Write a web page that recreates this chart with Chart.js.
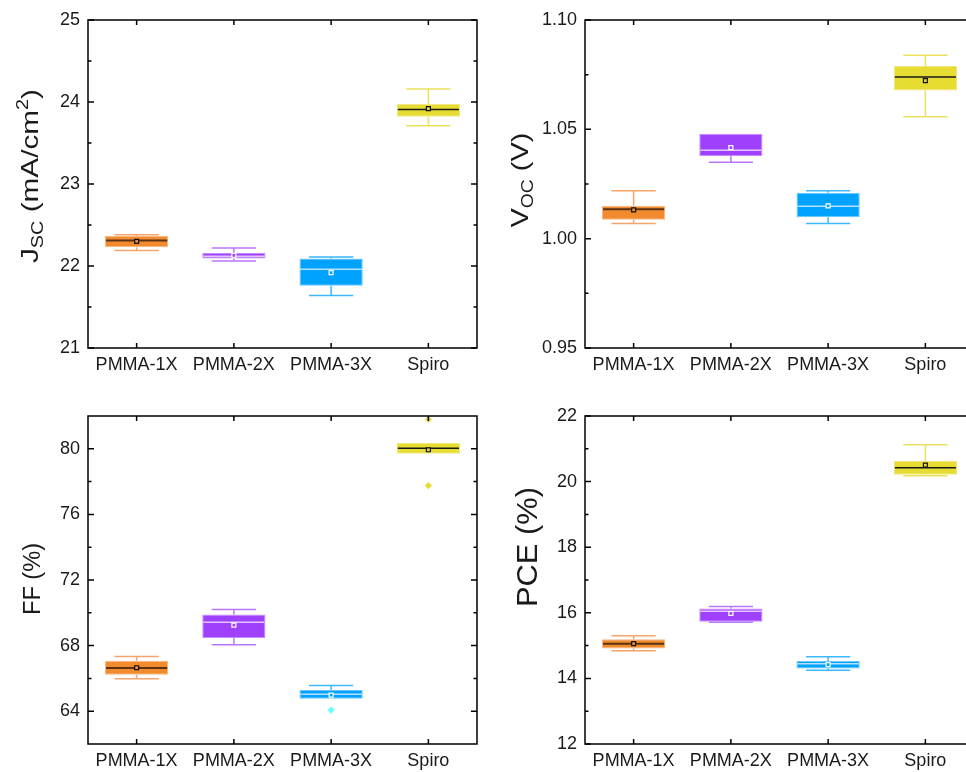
<!DOCTYPE html>
<html>
<head>
<meta charset="utf-8">
<script src="https://cdn.jsdelivr.net/npm/chart.js@4.4.1/dist/chart.umd.min.js"></script>
<style>
  html, body { margin: 0; padding: 0; background: #fff; overflow: hidden; }
  body { width: 966px; height: 772px; position: relative; }
  .panel { position: absolute; width: 483px; height: 386px; }
</style>
</head>
<body>
<div class="panel" style="left:0px;top:0px"><canvas id="jsc" width="483" height="386"></canvas></div>
<div class="panel" style="left:497px;top:0px"><canvas id="voc" width="483" height="386"></canvas></div>
<div class="panel" style="left:0px;top:396px"><canvas id="ff" width="483" height="386"></canvas></div>
<div class="panel" style="left:497px;top:396px"><canvas id="pce" width="483" height="386"></canvas></div>
<script>
const groups = ['PMMA-1X', 'PMMA-2X', 'PMMA-3X', 'Spiro'];

// box statistics per group: whisker ends, quartiles, median, mean
const jscMin  = [22.19, 22.06, 21.64, 23.71];
const jscQ1   = [22.23, 22.09, 21.76, 23.82];
const jscMed  = [22.31, 22.12, 21.96, 23.91];
const jscQ3   = [22.37, 22.16, 22.09, 23.98];
const jscMax  = [22.38, 22.22, 22.11, 24.16];
const jscMean = [22.30, 22.13, 21.92, 23.92];

const vocMin  = [1.0069, 1.0349, 1.0069, 1.0558];
const vocQ1   = [1.0087, 1.0378, 1.0098, 1.0678];
const vocMed  = [1.0134, 1.0404, 1.0148, 1.0739];
const vocQ3   = [1.0150, 1.0480, 1.0210, 1.0790];
const vocMax  = [1.0219, 1.0480, 1.0219, 1.0839];
const vocMean = [1.0132, 1.0416, 1.0150, 1.0723];

const ffMin  = [65.98, 68.05, 64.76, 79.70];
const ffQ1   = [66.22, 68.46, 64.76, 79.70];
const ffMed  = [66.63, 69.43, 65.04, 80.04];
const ffQ3   = [67.07, 69.90, 65.29, 80.35];
const ffMax  = [67.34, 70.20, 65.57, 80.35];
const ffMean = [66.65, 69.25, 64.98, 79.94];
const ffOutGroup = ['PMMA-3X', 'Spiro', 'Spiro'];
const ffOutValue = [64.07, 81.79, 77.76];

const pceMin  = [14.84, 15.71, 14.25, 20.18];
const pceQ1   = [14.91, 15.73, 14.30, 20.21];
const pceMed  = [15.06, 16.05, 14.45, 20.42];
const pceQ3   = [15.19, 16.13, 14.53, 20.63];
const pceMax  = [15.30, 16.19, 14.66, 21.12];
const pceMean = [15.06, 15.98, 14.42, 20.50];

// y axis ticks
const jscTicks = [21, 22, 23, 24, 25];
const jscMinor = [21.5, 22.5, 23.5, 24.5];
const vocTicks = [0.95, 1.00, 1.05, 1.10];
const vocMinor = [0.975, 1.025, 1.075];
const ffTicks = [64, 68, 72, 76, 80];
const ffMinor = [66, 70, 74, 78];
const pceTicks = [12, 14, 16, 18, 20, 22];
const pceMinor = [13, 15, 17, 19, 21];

// colours per group
const fillColors    = ['#F28A2E', '#A040FF', '#00A2FF', '#E6DC32'];
const edgeColors    = ['#F7B783', '#C68CFF', '#66C8FF', '#EFE77E'];
const whiskerColors = ['#F5A46A', '#B977FF', '#3DB8FF', '#EBE15F'];
const medianColors  = ['#5A3412', '#E3C6FF', '#B5E2FF', '#1A1A1A'];
const meanEdge      = ['#111111', '#FFFFFF', '#FFFFFF', '#111111'];
const outlierColors = { 'PMMA-3X': '#66FFFF', 'Spiro': '#E6DC32' };

const FONT = "'Liberation Sans', Arial, sans-serif";

const boxParts = {
  id: 'boxParts',
  beforeDatasetsDraw(chart, args, o) {
    const ctx = chart.ctx, xs = chart.scales.x, ys = chart.scales.y;
    const bar = chart.getDatasetMeta(0).data;
    ctx.save();
    ctx.lineWidth = 1.5;
    groups.forEach((g, i) => {
      const x = xs.getPixelForValue(i);
      const half = bar[i].width * 0.35;
      ctx.strokeStyle = whiskerColors[i];
      const yLo = ys.getPixelForValue(o.min[i]), yHi = ys.getPixelForValue(o.max[i]);
      const yQ1 = ys.getPixelForValue(o.q1[i]), yQ3 = ys.getPixelForValue(o.q3[i]);
      ctx.beginPath();
      ctx.moveTo(x, yHi); ctx.lineTo(x, yQ3);
      ctx.moveTo(x, yQ1); ctx.lineTo(x, yLo);
      ctx.stroke();
      ctx.beginPath();
      if (o.max[i] > o.q3[i]) { ctx.moveTo(x - half, yHi); ctx.lineTo(x + half, yHi); }
      if (o.min[i] < o.q1[i]) { ctx.moveTo(x - half, yLo); ctx.lineTo(x + half, yLo); }
      ctx.stroke();
    });
    ctx.restore();
  },
  afterDatasetDraw(chart, args, o) {
    if (args.index !== 0) return;
    const ctx = chart.ctx, ys = chart.scales.y;
    const bar = chart.getDatasetMeta(0).data;
    ctx.save();
    groups.forEach((g, i) => {
      const y = ys.getPixelForValue(o.med[i]);
      const w = bar[i].width;
      ctx.strokeStyle = medianColors[i];
      ctx.lineWidth = i === 0 ? 2 : 1.5;
      ctx.beginPath();
      ctx.moveTo(bar[i].x - w / 2 + 1, y);
      ctx.lineTo(bar[i].x + w / 2 - 1, y);
      ctx.stroke();
    });
    ctx.restore();
  }
};

const frame = {
  id: 'frame',
  afterDraw(chart, args, o) {
    const ctx = chart.ctx, a = chart.chartArea, xs = chart.scales.x, ys = chart.scales.y;
    ctx.save();
    ctx.strokeStyle = '#000';
    ctx.lineWidth = 1.5;
    ctx.strokeRect(a.left, a.top, a.right - a.left, a.bottom - a.top);
    ctx.beginPath();
    o.ticks.forEach(v => {
      const y = ys.getPixelForValue(v);
      ctx.moveTo(a.left, y); ctx.lineTo(a.left + 6, y);
      ctx.moveTo(a.right, y); ctx.lineTo(a.right - 6, y);
    });
    o.minor.forEach(v => {
      const y = ys.getPixelForValue(v);
      ctx.moveTo(a.left, y); ctx.lineTo(a.left + 3.5, y);
      ctx.moveTo(a.right, y); ctx.lineTo(a.right - 3.5, y);
    });
    groups.forEach((g, i) => {
      const x = xs.getPixelForValue(i);
      ctx.moveTo(x, a.bottom); ctx.lineTo(x, a.bottom - 5);
      ctx.moveTo(x, a.top); ctx.lineTo(x, a.top + 5);
    });
    ctx.stroke();

    // rotated axis title with sub/superscripts, stretched to its set length
    const t = o.title;
    const size = t.size;
    const parts = t.parts.map(([s, k]) => {
      const fs = k ? Math.round(size * 0.66) : size;
      ctx.font = fs + 'px ' + FONT;
      return { s, k, fs, w: ctx.measureText(s).width };
    });
    const natural = parts.reduce((n, p) => n + p.w, 0);
    const stretch = t.length ? t.length / natural : 1;
    ctx.translate(t.x, t.y);
    ctx.rotate(-Math.PI / 2);
    ctx.scale(stretch, 1);
    ctx.fillStyle = '#1a1a1a';
    ctx.textBaseline = 'alphabetic';
    let x = -natural / 2;
    const base = size * 0.36;
    parts.forEach(p => {
      ctx.font = p.fs + 'px ' + FONT;
      let dy = 0;
      if (p.k === 'sub') dy = size * 0.22;
      if (p.k === 'sup') dy = -size * 0.42;
      ctx.fillText(p.s, x, base + dy);
      x += p.w;
    });
    ctx.restore();
  }
};

function makePanel(id, s) {
  const datasets = [
    {
      type: 'bar',
      data: groups.map((g, i) => [s.q1[i], s.q3[i]]),
      backgroundColor: fillColors,
      borderColor: edgeColors,
      borderWidth: 1,
      borderSkipped: false,
      barPercentage: 0.65,
      categoryPercentage: 1,
      order: 2
    },
    {
      type: 'line',
      data: s.mean,
      showLine: false,
      pointStyle: 'rect',
      pointRadius: 2.8,
      pointBorderWidth: 1.2,
      pointBackgroundColor: fillColors,
      pointBorderColor: meanEdge,
      order: 1
    }
  ];
  if (s.outGroup) {
    datasets.push({
      type: 'line',
      data: s.outGroup.map((g, i) => ({ x: g, y: s.outValue[i] })),
      showLine: false,
      pointStyle: 'rectRot',
      pointRadius: 3.6,
      pointBorderWidth: 0,
      pointBackgroundColor: s.outGroup.map(g => outlierColors[g]),
      order: 0
    });
  }
  new Chart(document.getElementById(id), {
    data: { labels: groups, datasets },
    options: {
      responsive: false,
      animation: false,
      events: [],
      layout: { padding: { top: 20, right: 6, left: 0, bottom: 0 } },
      plugins: {
        legend: { display: false },
        tooltip: { enabled: false },
        boxParts: s,
        frame: { ticks: s.ticks, minor: s.minor, title: s.title }
      },
      scales: {
        x: {
          type: 'category',
          offset: true,
          grid: { display: false, drawTicks: false },
          border: { display: false },
          ticks: { color: '#1a1a1a', font: { family: FONT, size: 18 }, padding: 6, maxRotation: 0, autoSkip: false },
          afterFit: sc => { sc.height = 38; }
        },
        y: {
          min: s.range[0],
          max: s.range[1],
          grid: { display: false, drawTicks: false },
          border: { display: false },
          afterBuildTicks: sc => { sc.ticks = s.ticks.map(v => ({ value: v })); },
          ticks: {
            color: '#1a1a1a',
            font: { family: FONT, size: 18 },
            padding: 8,
            callback: v => v.toFixed(s.digits)
          },
          afterFit: sc => { sc.width = 88; }
        }
      }
    },
    plugins: [boxParts, frame]
  });
}

makePanel('jsc', {
  min: jscMin, q1: jscQ1, med: jscMed, q3: jscQ3, max: jscMax, mean: jscMean,
  range: [21, 25], ticks: jscTicks, minor: jscMinor, digits: 0,
  title: { parts: [['J', ''], ['SC', 'sub'], [' (mA/cm', ''], ['2', 'sup'], [')', '']], size: 24, length: 174, x: 29, y: 176 }
});
makePanel('voc', {
  min: vocMin, q1: vocQ1, med: vocMed, q3: vocQ3, max: vocMax, mean: vocMean,
  range: [0.95, 1.10], ticks: vocTicks, minor: vocMinor, digits: 2,
  title: { parts: [['V', ''], ['OC', 'sub'], [' (V)', '']], size: 24, length: 95, x: 22, y: 180 }
});
makePanel('ff', {
  min: ffMin, q1: ffQ1, med: ffMed, q3: ffQ3, max: ffMax, mean: ffMean,
  outGroup: ffOutGroup, outValue: ffOutValue,
  range: [62, 82], ticks: ffTicks, minor: ffMinor, digits: 0,
  title: { parts: [['FF (%)', '']], size: 23.5, length: 72, x: 32, y: 183 }
});
makePanel('pce', {
  min: pceMin, q1: pceQ1, med: pceMed, q3: pceQ3, max: pceMax, mean: pceMean,
  range: [12, 22], ticks: pceTicks, minor: pceMinor, digits: 0,
  title: { parts: [['PCE (%)', '']], size: 30, length: 120, x: 29, y: 151 }
});
</script>
</body>
</html>
